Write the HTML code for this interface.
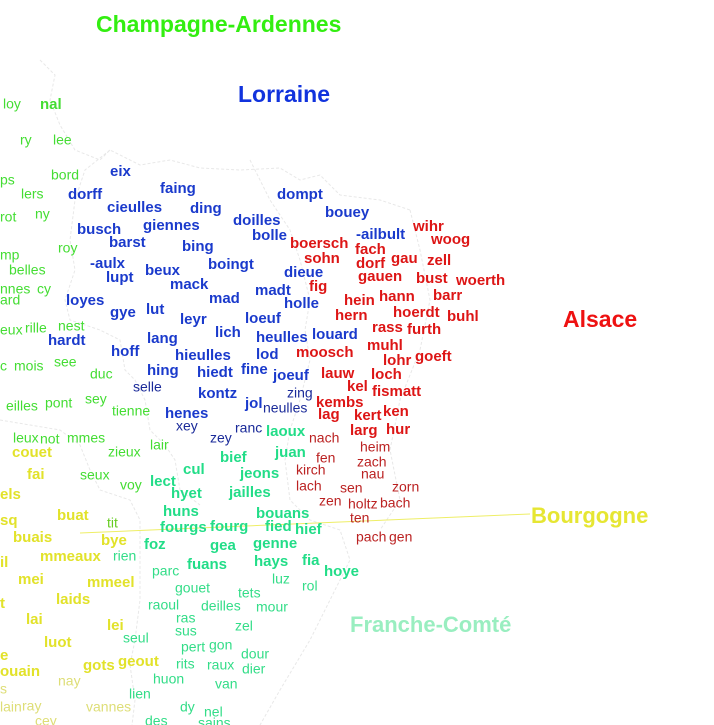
<!DOCTYPE html>
<html><head><meta charset="utf-8"><style>
html,body{margin:0;padding:0;background:#fff;width:714px;height:725px;overflow:hidden}
svg{display:block;font-family:"Liberation Sans",sans-serif}
.t{dominant-baseline:middle}
</style></head><body>
<svg id="map" width="714" height="725" viewBox="0 0 714 725">
<g fill="none" stroke="#e8e8e8" stroke-width="1" stroke-dasharray="3,2">
<path d="M40,60 L55,75 L50,100 L60,125 L75,150 L100,160 L110,150 L140,165 L170,160 L200,168 L240,170 L280,168 L300,180 L320,175 L340,195 L380,200 L410,210"/>
<path d="M110,150 L85,170 L75,200 L70,240 L75,270 L65,300 L70,320 L100,330 L120,340 L125,370 L135,380 L145,400 L150,430 L165,445 L175,460 L180,490 L200,505"/>
<path d="M0,420 L30,425 L60,430 L80,445 L90,470 L100,490 L130,500 L140,520 L140,545 L140,600 L135,640 L130,665 L135,700 L132,725"/>
<path d="M250,160 L270,200 L290,230 L300,260 L310,300 L305,330 L310,360 L300,400 L290,430 L285,460 L290,500 L310,520 L340,530 L350,560 L330,600 L310,640 L280,690 L260,725"/>
<path d="M410,210 L420,250 L430,300 L420,350 L400,400 L390,450 L400,500 L380,530"/>
</g>
<line x1="80" y1="533" x2="530" y2="514" stroke="#eeee66" stroke-width="1"/>
<g id="words"></g>
<g font-family="'Liberation Sans',sans-serif" font-weight="bold">
<text x="96" y="26" class="t" font-size="23" fill="#33ee11">Champagne-Ardennes</text>
<text x="238" y="96" class="t" font-size="23" fill="#1133dd">Lorraine</text>
<text x="563" y="321" class="t" font-size="23" fill="#ee1111">Alsace</text>
<text x="531" y="517" class="t" font-size="22" fill="#e6e633">Bourgogne</text>
<text x="350" y="626" class="t" font-size="22" fill="#99eec0">Franche-Comté</text>
</g>
</svg>
<script>
const styles={C:["#44dd33",false],L:["#1a3acc",true],N:["#1a2a99",false],R:["#dd1515",true],r:["#bb2222",false],Y:["#e2e22a",true],y:["#dede77",false],F:["#22dd88",true],f:["#33dd88",false],c:["#44dd33",true],t:["#66cc22",false]};
const words=[
["loy",3,105,"C"],["nal",40,105,"c"],["ry",20,141,"C"],["lee",53,141,"C"],["ps",0,181,"C"],["bord",51,176,"C"],["lers",21,195,"C"],["rot",0,218,"C"],["ny",35,215,"C"],["mp",0,256,"C"],["roy",58,249,"C"],["belles",9,271,"C"],["nnes",0,290,"C"],["cy",37,290,"C"],["ard",0,301,"C"],["eux",0,331,"C"],["rille",25,329,"C"],["nest",58,327,"C"],["c",0,367,"C"],["mois",14,367,"C"],["see",54,363,"C"],["duc",90,375,"C"],["eilles",6,407,"C"],["pont",45,404,"C"],["sey",85,400,"C"],["tienne",112,412,"C"],["leux",13,439,"C"],["not",40,440,"C"],["mmes",67,439,"C"],["zieux",108,453,"C"],["lair",150,446,"C"],["seux",80,476,"C"],["voy",120,486,"C"],
["eix",110,172,"L"],["dorff",68,195,"L"],["faing",160,189,"L"],["cieulles",107,208,"L"],["ding",190,209,"L"],["giennes",143,226,"L"],["busch",77,230,"L"],["barst",109,243,"L"],["bing",182,247,"L"],["-aulx",90,264,"L"],["lupt",106,278,"L"],["beux",145,271,"L"],["mack",170,285,"L"],["boingt",208,265,"L"],["loyes",66,301,"L"],["gye",110,313,"L"],["lut",146,310,"L"],["leyr",180,320,"L"],["mad",209,299,"L"],["hardt",48,341,"L"],["hoff",111,352,"L"],["lang",147,339,"L"],["lich",215,333,"L"],["hieulles",175,356,"L"],["hing",147,371,"L"],["hiedt",197,373,"L"],["kontz",198,394,"L"],["henes",165,414,"L"],["dompt",277,195,"L"],["bouey",325,213,"L"],["doilles",233,221,"L"],["bolle",252,236,"L"],["dieue",284,273,"L"],["madt",255,291,"L"],["holle",284,304,"L"],["loeuf",245,319,"L"],["heulles",256,338,"L"],["louard",312,335,"L"],["lod",256,355,"L"],["fine",241,370,"L"],["joeuf",273,376,"L"],["jol",245,404,"L"],["-ailbult",356,235,"L"],
["selle",133,388,"N"],["xey",176,427,"N"],["zey",210,439,"N"],["ranc",235,429,"N"],["zing",287,394,"N"],["neulles",263,409,"N"],
["boersch",290,244,"R"],["fach",355,250,"R"],["sohn",304,259,"R"],["dorf",356,264,"R"],["gau",391,259,"R"],["zell",427,261,"R"],["gauen",358,277,"R"],["bust",416,279,"R"],["woerth",456,281,"R"],["fig",309,287,"R"],["hein",344,301,"R"],["hann",379,297,"R"],["barr",433,296,"R"],["hern",335,316,"R"],["hoerdt",393,313,"R"],["buhl",447,317,"R"],["rass",372,328,"R"],["furth",407,330,"R"],["muhl",367,346,"R"],["moosch",296,353,"R"],["lohr",383,361,"R"],["goeft",415,357,"R"],["lauw",321,374,"R"],["loch",371,375,"R"],["kel",347,387,"R"],["fismatt",372,392,"R"],["kembs",316,403,"R"],["lag",318,415,"R"],["kert",354,416,"R"],["ken",383,412,"R"],["larg",350,431,"R"],["hur",386,430,"R"],["wihr",413,227,"R"],["woog",431,240,"R"],
["nach",309,439,"r"],["heim",360,448,"r"],["fen",316,459,"r"],["zach",357,463,"r"],["kirch",296,471,"r"],["nau",361,475,"r"],["lach",296,487,"r"],["sen",340,489,"r"],["zorn",392,488,"r"],["zen",319,502,"r"],["holtz",348,505,"r"],["bach",380,504,"r"],["ten",350,519,"r"],["pach",356,538,"r"],["gen",389,538,"r"],
["couet",12,453,"Y"],["fai",27,475,"Y"],["els",0,495,"Y"],["sq",0,521,"Y"],["buat",57,516,"Y"],["buais",13,538,"Y"],["bye",101,541,"Y"],["il",0,563,"Y"],["mmeaux",40,557,"Y"],["mei",18,580,"Y"],["mmeel",87,583,"Y"],["t",0,604,"Y"],["laids",56,600,"Y"],["lai",26,620,"Y"],["lei",107,626,"Y"],["luot",44,643,"Y"],["e",0,656,"Y"],["ouain",0,672,"Y"],["gots",83,666,"Y"],["geout",118,662,"Y"],["tit",107,524,"t"],
["nay",58,682,"y"],["s",0,690,"y"],["lain",0,708,"y"],["ray",22,707,"y"],["vannes",86,708,"y"],["cey",35,722,"y"],
["bief",220,458,"F"],["laoux",266,432,"F"],["juan",275,453,"F"],["cul",183,470,"F"],["jeons",240,474,"F"],["lect",150,482,"F"],["hyet",171,494,"F"],["jailles",229,493,"F"],["huns",163,512,"F"],["bouans",256,514,"F"],["fourgs",160,528,"F"],["fourg",210,527,"F"],["fied",265,527,"F"],["hief",295,530,"F"],["foz",144,545,"F"],["gea",210,546,"F"],["genne",253,544,"F"],["hays",254,562,"F"],["fia",302,561,"F"],["fuans",187,565,"F"],["hoye",324,572,"F"],
["rien",113,557,"f"],["parc",152,572,"f"],["gouet",175,589,"f"],["luz",272,580,"f"],["rol",302,587,"f"],["raoul",148,606,"f"],["deilles",201,607,"f"],["tets",238,594,"f"],["mour",256,608,"f"],["ras",176,619,"f"],["zel",235,627,"f"],["sus",175,632,"f"],["seul",123,639,"f"],["pert",181,648,"f"],["gon",209,646,"f"],["dour",241,655,"f"],["rits",176,665,"f"],["raux",207,666,"f"],["dier",242,670,"f"],["huon",153,680,"f"],["van",215,685,"f"],["lien",129,695,"f"],["dy",180,708,"f"],["nel",204,713,"f"],["des",145,722,"f"],["sains",198,724,"f"]
];
const g=document.getElementById('words');
const NS="http://www.w3.org/2000/svg";
for(const w of words){
  const s=styles[w[3]];
  const el=document.createElementNS(NS,'text');
  el.setAttribute('x',w[1]);el.setAttribute('y',w[2]);
  el.setAttribute('class','t');
  el.setAttribute('fill',s[0]);
  el.setAttribute('font-size',s[1]?15:14);
  if(s[1])el.setAttribute('font-weight','bold');
  el.textContent=w[0];
  
  
  g.appendChild(el);
}
</script>
</body></html>
